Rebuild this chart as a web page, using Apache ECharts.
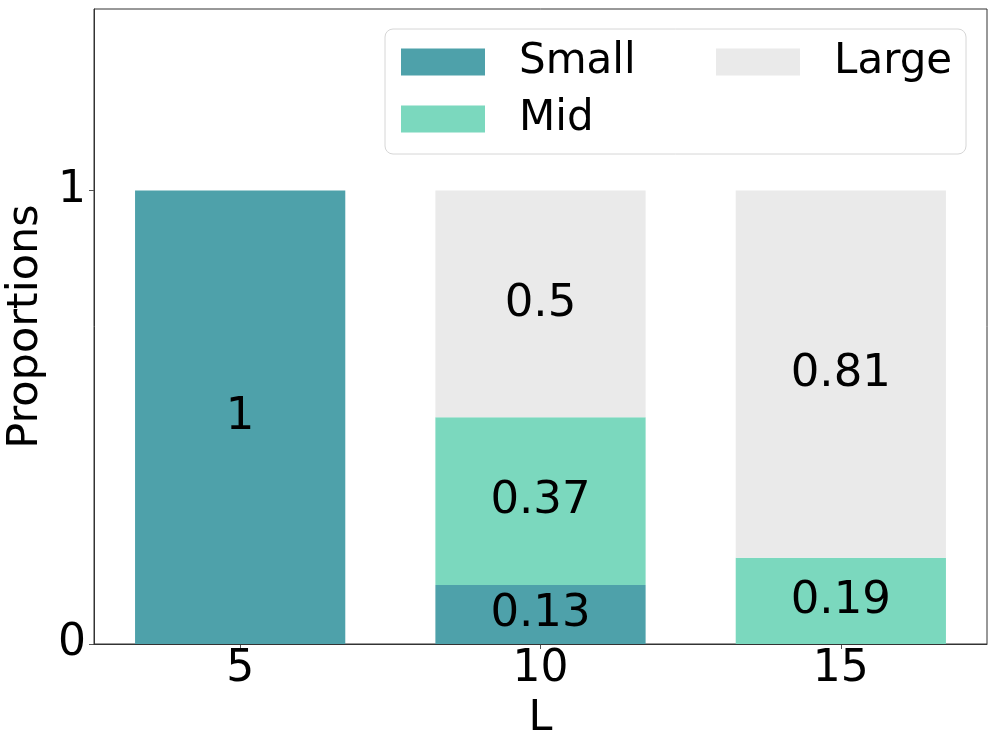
<!DOCTYPE html>
<html>
<head>
<meta charset="utf-8">
<script src="https://cdn.jsdelivr.net/npm/echarts@6/dist/echarts.min.js"></script>
<style>
html,body{margin:0;padding:0;background:#fff;}
#chart{width:997px;height:747px;}
</style>
</head>
<body>
<div id="chart"></div>
<script>
const categories = ['5', '10', '15'];
const smallValues = [1, 0.13, 0];
const midValues = [0, 0.37, 0.19];
const largeValues = [0, 0.5, 0.81];
const yTicks = [0, 1];

const FONT = 'DejaVu Sans';
const colors = { Small: '#4ea1aa', Mid: '#7bd8be', Large: '#eaeaea' };

function mkSeries(name, vals) {
  return {
    name: name,
    type: 'bar',
    stack: 'total',
    xAxisIndex: 0,
    yAxisIndex: 0,
    barWidth: '70%',
    data: vals,
    itemStyle: { color: colors[name] },
    label: {
      show: true,
      position: 'inside',
      color: '#000',
      fontFamily: FONT,
      fontSize: 45,
      formatter: p => (p.value ? String(p.value) : '')
    },
    emphasis: { disabled: true }
  };
}

const chart = echarts.init(document.getElementById('chart'), null, { renderer: 'canvas' });
chart.setOption({
  animation: false,
  backgroundColor: '#fff',
  grid: [
    { left: 90, right: 6, top: 9, bottom: 103, outerBoundsMode: 'none', containLabel: false },
    { left: 94, right: 10, top: 9, bottom: 103, outerBoundsMode: 'none', containLabel: false, show: true, borderColor: '#333', borderWidth: 1, backgroundColor: 'transparent' }
  ],
  graphic: [{
    type: 'rect',
    shape: { x: 385, y: 29, width: 581, height: 125, r: 8 },
    style: { fill: 'rgba(255,255,255,0.8)', stroke: '#d6d6d6', lineWidth: 1 },
    z: 1
  }],
  legend: [{
    orient: 'vertical',
    left: 396,
    top: 36,
    data: ['Small', 'Mid'],
    itemWidth: 84,
    itemHeight: 27,
    itemGap: 15,
    icon: 'rect',
    selectedMode: false,
    textStyle: { fontFamily: FONT, fontSize: 42, color: '#000', padding: [0, 0, 0, 29] },
    z: 5
  }, {
    orient: 'vertical',
    left: 711,
    top: 36,
    data: ['Large'],
    itemWidth: 84,
    itemHeight: 27,
    icon: 'rect',
    selectedMode: false,
    textStyle: { fontFamily: FONT, fontSize: 42, color: '#000', padding: [0, 0, 0, 29] },
    z: 5
  }],
  xAxis: [{
    type: 'category',
    gridIndex: 0,
    data: categories,
    name: 'L',
    nameLocation: 'middle',
    nameGap: 44,
    nameTextStyle: { fontFamily: FONT, fontSize: 43, color: '#000' },
    axisLine: { show: false },
    axisTick: { show: true, alignWithLabel: true, length: 5, lineStyle: { color: '#555' } },
    axisLabel: { fontFamily: FONT, fontSize: 44, color: '#000', margin: 4 },
    splitLine: { show: false }
  }, {
    type: 'value',
    gridIndex: 1,
    min: 0,
    max: 1,
    z: 5,
    axisLine: { show: true, onZero: false, lineStyle: { color: '#333', width: 1 } },
    axisTick: { show: false },
    axisLabel: { show: false },
    splitLine: { show: false }
  }],
  yAxis: [{
    type: 'value',
    gridIndex: 0,
    min: 0,
    max: 1.4,
    show: false,
    splitLine: { show: false }
  }, {
    type: 'value',
    gridIndex: 1,
    min: 0,
    max: 1.4,
    name: 'Proportions',
    nameLocation: 'middle',
    nameGap: 41,
    nameTextStyle: { fontFamily: FONT, fontSize: 43, color: '#000' },
    axisLine: { show: true, lineStyle: { color: '#333', width: 1 } },
    axisTick: { show: true, customValues: yTicks, length: 5, lineStyle: { color: '#555' } },
    axisLabel: { customValues: yTicks, fontFamily: FONT, fontSize: 44, color: '#000', margin: 8 },
    splitLine: { show: false }
  }],
  series: [
    mkSeries('Small', smallValues),
    mkSeries('Mid', midValues),
    mkSeries('Large', largeValues)
  ]
});
</script>
</body>
</html>
